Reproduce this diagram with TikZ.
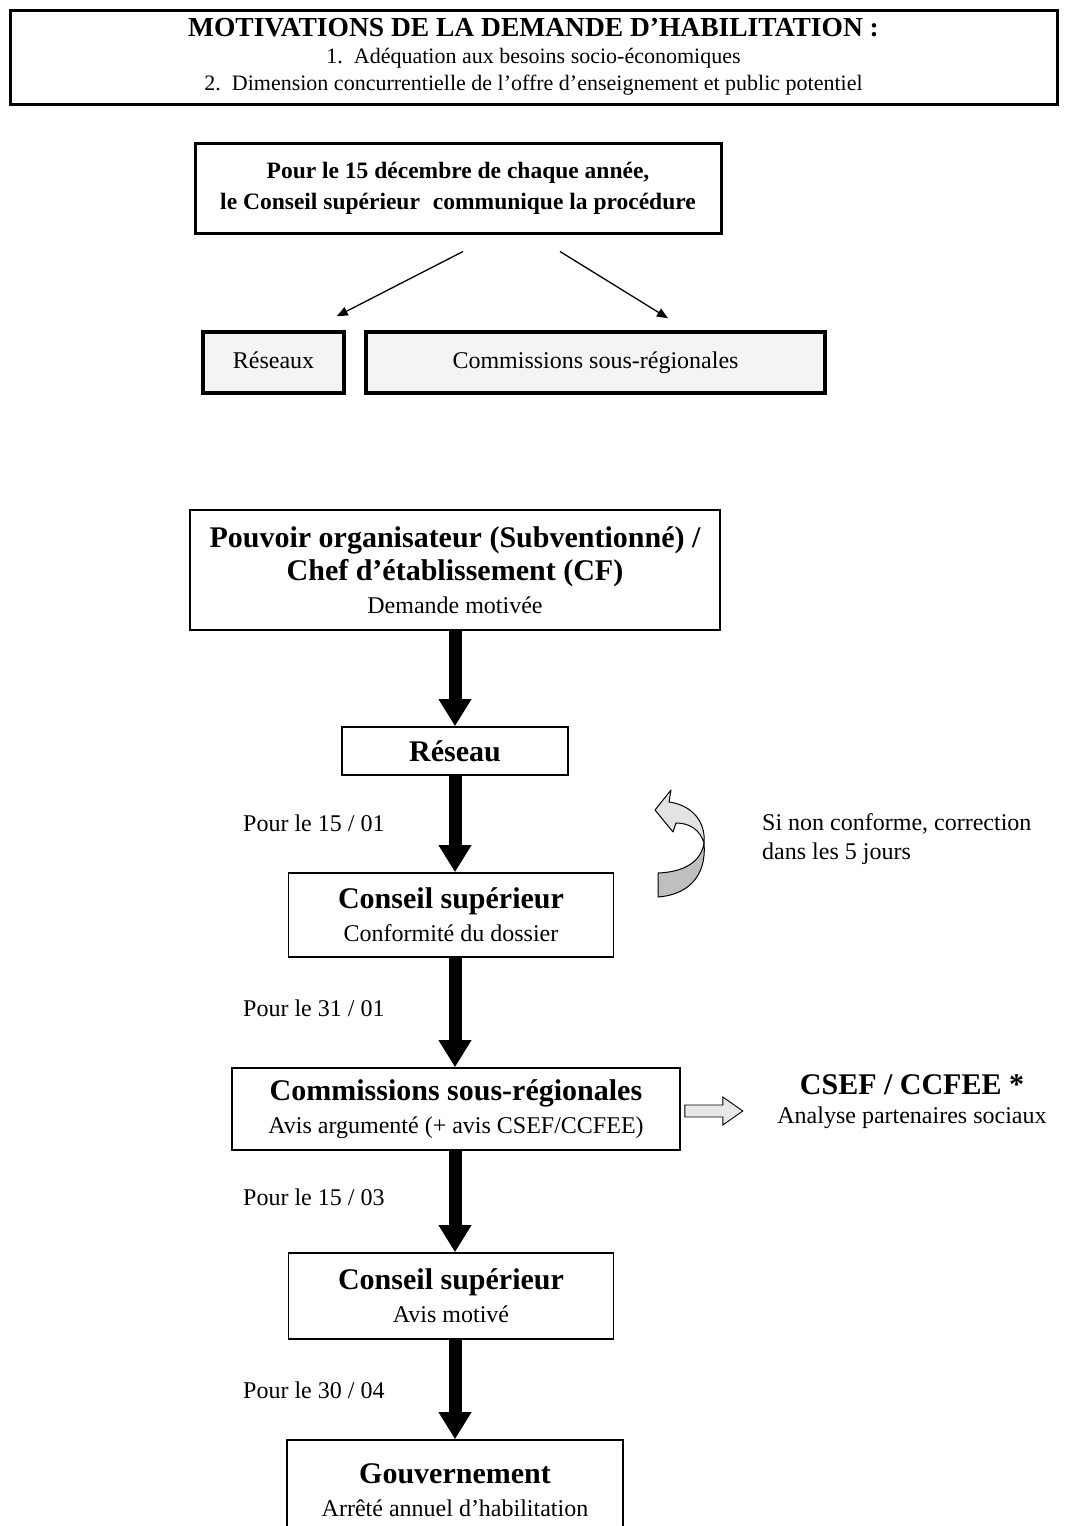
\documentclass[tikz,border=0pt]{standalone}
\usepackage{fontspec}
\setmainfont{Liberation Serif}
\usetikzlibrary{arrows.meta,calc}
\newcommand\fsz[2]{\fontsize{#1}{#2}\selectfont}
\newcommand\bigb{\fsz{30}{33}\bfseries}
\begin{document}
\begin{tikzpicture}[x=1pt,y=-1pt,
  box/.style={draw, line width=1.6pt, inner sep=0pt, align=center, font=\fsz{24}{33}},
  thickbox/.style={draw, line width=3pt, inner sep=0pt, align=center},
  greybox/.style={draw, line width=3.5pt, fill=gray!9, inner sep=0pt, align=center,
    font=\fsz{24}{26}, text height=17pt, text depth=5pt},
  flow/.style={line width=13pt, -{Triangle[length=27pt,width=31pt]}},
  thinarrow/.style={line width=1.3pt, -{Triangle[length=11pt,width=9pt]}},
  datelbl/.style={font=\fsz{24}{28}, anchor=west, inner sep=0pt},
  ribbonlight/.style={fill=gray!22, draw, line width=1pt, line join=round},
  ribbondark/.style={fill=gray!50, draw, line width=1pt, line join=round},
  sidearrow/.style={fill=gray!18, draw, line width=0.9pt, line join=miter},
]
\useasboundingbox (0,0) rectangle (1067,1526);
\begin{scope}
\clip (0,0) rectangle (1067,1526);

% top box
\node[thickbox, minimum width=1047, minimum height=94, font=\fsz{22}{27}] (motiv) at (533.5,57)
  {{\fsz{27.5}{27}\bfseries MOTIVATIONS DE LA DEMANDE D’HABILITATION :}\\
   1.\ \ Adéquation aux besoins socio-économiques\\
   2.\ \ Dimension concurrentielle de l’offre d’enseignement et public potentiel};

% procedure box
\node[thickbox, minimum width=526, minimum height=90, font=\fsz{23.5}{31}\bfseries] (proc) at (458,188)
  {Pour le 15 décembre de chaque année,\\le Conseil supérieur\hspace{0.3em} communique la procédure};

\node[greybox, minimum width=141, minimum height=61] (resx) at (273.5,362.5) {Réseaux};
\node[greybox, minimum width=459, minimum height=61] (comx) at (595.5,362.5) {Commissions sous-régionales};

\coordinate (d1a) at ($(proc.south)+(5,17)$);
\coordinate (d1b) at ($(resx.north east)+(-9,-14)$);
\coordinate (d2a) at ($(proc.south)+(102,17)$);
\coordinate (d2b) at ($(comx.north)+(72.5,-12)$);
\draw[thinarrow] (d1a) -- (d1b);
\draw[thinarrow] (d2a) -- (d2b);

% flow
\node[box, minimum width=530, minimum height=120] (pouvoir) at (455,570)
  {{\bigb Pouvoir organisateur (Subventionné) /}\\
   {\bigb Chef d’établissement (CF)}\\
   Demande motivée};
\node[box, minimum width=226, minimum height=48] (reseau) at (455,751) {\bigb Réseau};
\node[box, minimum width=325, minimum height=84] (cs1) at (451,915)
  {{\bigb Conseil supérieur}\\Conformité du dossier};
\node[box, minimum width=448, minimum height=82] (comm) at (456,1109)
  {{\bigb Commissions sous-régionales}\\Avis argumenté (+ avis CSEF/CCFEE)};
\node[box, minimum width=325, minimum height=86] (cs2) at (451,1296)
  {{\bigb Conseil supérieur}\\Avis motivé};
\node[box, minimum width=336, minimum height=100] (gouv) at (455,1490)
  {{\bigb Gouvernement}\\Arrêté annuel d’habilitation};

\draw[flow] (pouvoir.south) -- (reseau.north);
\draw[flow] (reseau.south) -- (reseau.south |- cs1.north);
\draw[flow] (cs1.south -| reseau.south) -- (comm.north -| reseau.south);
\draw[flow] (comm.south -| reseau.south) -- (cs2.north -| reseau.south);
\draw[flow] (cs2.south -| reseau.south) -- (gouv.north);

\node[datelbl] (l1) at (243,823) {Pour le 15 / 01};
\node[datelbl] (l2) at (243,1008) {Pour le 31 / 01};
\node[datelbl] (l3) at (243,1197) {Pour le 15 / 03};
\node[datelbl] (l4) at (243,1390) {Pour le 30 / 04};

% return arrow
\filldraw[ribbonlight] (704,843) .. controls (700,830) and (690,823) .. (676,823)
  -- (673,832) -- (655,810) -- (671,790) -- (669,802)
  .. controls (692,805) and (706,822) .. (704,843) -- cycle;
\filldraw[ribbondark] (704,843) .. controls (707,878) and (686,895) .. (658,897)
  -- (658,873) .. controls (684,872) and (701,862) .. (704,843) -- cycle;
\node[font=\fsz{24}{29}, align=left, anchor=west, inner sep=0pt] (corr) at (762,839)
  {Si non conforme, correction\\dans les 5 jours};

% CSEF
\node[align=center, inner sep=0pt, font=\fsz{24}{29}] (csef) at (912,1102)
  {{\bigb CSEF / CCFEE *}\\Analyse partenaires sociaux};
\draw[sidearrow] ($(comm.east)+(4,-4)$) -- ++(38,0) -- ++(0,-8) -- ++(20,14)
  -- ++(-20,14) -- ++(0,-8) -- ++(-38,0) -- cycle;
\end{scope}
\end{tikzpicture}
\end{document}
